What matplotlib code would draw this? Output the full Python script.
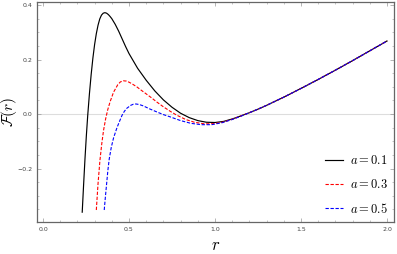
import matplotlib
matplotlib.use("Agg")
import matplotlib.pyplot as plt
from matplotlib.ticker import MultipleLocator

plt.rcParams['mathtext.fontset'] = 'cm'

tail_r = [1.25, 1.3, 1.4, 1.5, 1.6, 1.7, 1.8, 1.9, 2.0]
tail_F = [0.018, 0.032, 0.062, 0.094, 0.127, 0.161, 0.196, 0.232, 0.268]

r_a1 = [0.228, 0.236, 0.244, 0.252, 0.260, 0.270, 0.280, 0.290, 0.300, 0.310,
        0.320, 0.330, 0.340, 0.350, 0.360, 0.370, 0.380, 0.390, 0.400, 0.420,
        0.440, 0.460, 0.480, 0.500, 0.550, 0.600, 0.650, 0.700, 0.750, 0.800,
        0.850, 0.900, 0.950, 1.000, 1.050, 1.100, 1.150, 1.200] + tail_r
F_a1 = [-0.360, -0.260, -0.165, -0.080, -0.005, 0.075, 0.145, 0.205, 0.255, 0.295,
        0.326, 0.349, 0.363, 0.370, 0.372, 0.370, 0.365, 0.358, 0.350, 0.329,
        0.304, 0.276, 0.248, 0.222, 0.168, 0.124, 0.085, 0.052, 0.025, 0.003,
        -0.013, -0.024, -0.030, -0.031, -0.027, -0.018, -0.007, 0.005] + tail_F

r_a3 = [0.31, 0.32, 0.331, 0.342, 0.352, 0.364, 0.376, 0.39, 0.41, 0.435, 0.45,
        0.467, 0.485, 0.5, 0.52, 0.545, 0.57, 0.6, 0.63, 0.66, 0.699, 0.74, 0.777,
        0.83, 0.88, 0.94, 1.0, 1.05, 1.1, 1.15, 1.2] + tail_r
F_a3 = [-0.352, -0.255, -0.17, -0.107, -0.06, -0.018, 0.015, 0.045, 0.08, 0.108,
        0.118, 0.122, 0.121, 0.117, 0.110, 0.100, 0.088, 0.074, 0.060, 0.045,
        0.027, 0.010, -0.004, -0.020, -0.030, -0.036, -0.035, -0.029, -0.019,
        -0.007, 0.005] + tail_F

r_a5 = [0.356, 0.363, 0.37, 0.377, 0.385, 0.397, 0.41, 0.43, 0.448, 0.46, 0.473,
        0.487, 0.51, 0.525, 0.54, 0.56, 0.583, 0.62, 0.661, 0.7, 0.738, 0.8, 0.86,
        0.92, 0.98, 1.04, 1.1, 1.15, 1.2] + tail_r
F_a5 = [-0.352, -0.302, -0.255, -0.208, -0.165, -0.122, -0.088, -0.050, -0.022,
        -0.004, 0.010, 0.021, 0.032, 0.036, 0.037, 0.035, 0.030, 0.019, 0.008,
        -0.002, -0.010, -0.024, -0.034, -0.039, -0.039, -0.032, -0.02, -0.008,
        0.005] + tail_F

labels = ["$a = 0.1$", "$a = 0.3$", "$a = 0.5$"]

fig = plt.figure(figsize=(3.97, 2.54), dpi=100)
ax = fig.add_axes([0.0932, 0.126, 0.8992, 0.866])

ax.axhline(0, color='#dddddd', lw=0.8, zorder=0)
ax.plot(r_a1, F_a1, color='black', lw=0.85, label=labels[0])
ax.plot(r_a3, F_a3, color='red', lw=0.8, ls=(0, (3, 1.5)), label=labels[1])
ax.plot(r_a5, F_a5, color='blue', lw=0.8, ls=(0, (3, 1.5)), label=labels[2])

ax.set_xlim(-0.0349, 2.0407)
ax.set_ylim(-0.396, 0.411)
ax.xaxis.set_major_locator(MultipleLocator(0.5))
ax.xaxis.set_minor_locator(MultipleLocator(0.1))
ax.yaxis.set_major_locator(MultipleLocator(0.2))
ax.yaxis.set_minor_locator(MultipleLocator(0.05))
ax.tick_params(which='both', direction='in', colors='#999999', labelcolor='#444444',
               labelsize=4.5, top=True, right=True)
ax.tick_params(which='major', length=3, width=0.5)
ax.tick_params(which='minor', length=1.5, width=0.4)
for s in ax.spines.values():
    s.set_color('#666666')
    s.set_linewidth(0.9)

ax.set_xlabel("$r$", fontsize=12, labelpad=3)
ax.set_ylabel(r"$\mathcal{F}(r)$", fontsize=11)
ax.yaxis.set_label_coords(-0.05, 0.5)

leg = ax.legend(loc='lower right', frameon=False, fontsize=9, handlelength=1.5,
                handletextpad=0.5, labelspacing=0.85, borderaxespad=0.1)

fig.savefig("out.png", dpi=100)
